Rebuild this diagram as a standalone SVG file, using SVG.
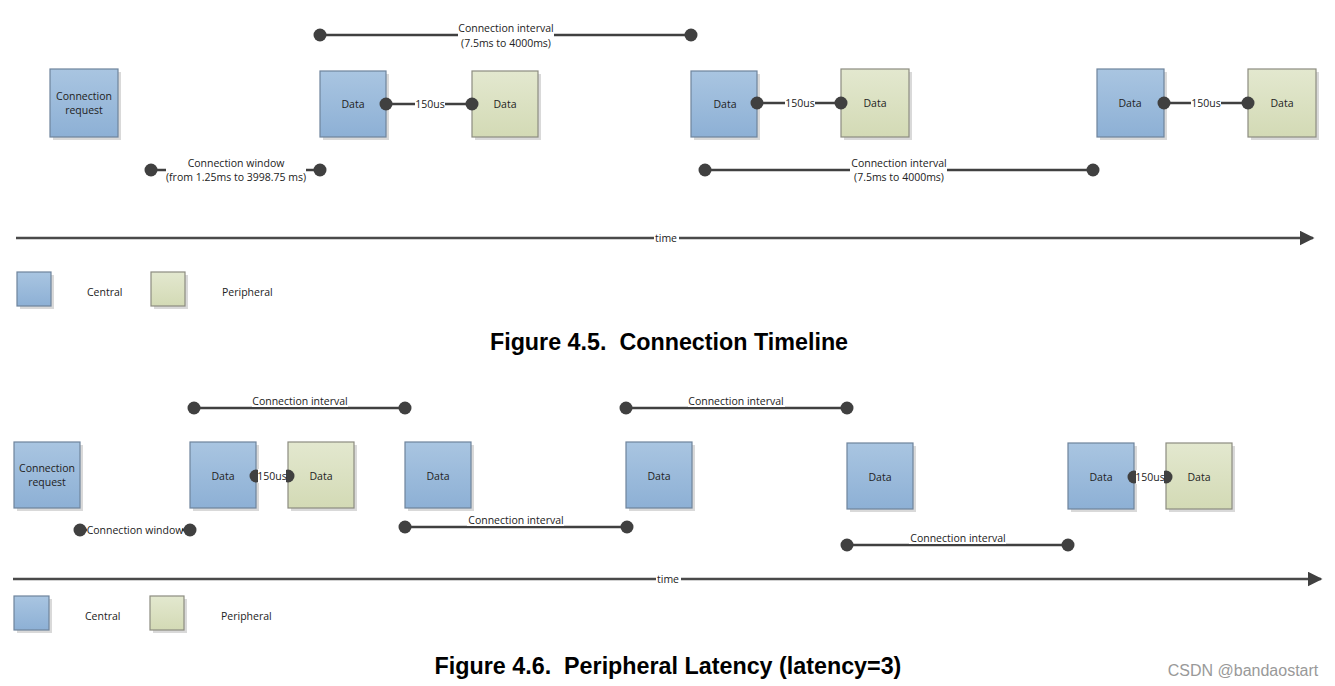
<svg xmlns="http://www.w3.org/2000/svg" width="1335" height="686" viewBox="0 0 1335 686">
<defs>
<linearGradient id="gBlue" x1="0" y1="0" x2="0" y2="1">
<stop offset="0" stop-color="#a9c5e1"/><stop offset="1" stop-color="#8db0d5"/>
</linearGradient>
<linearGradient id="gGreen" x1="0" y1="0" x2="0" y2="1">
<stop offset="0" stop-color="#e3e8cf"/><stop offset="1" stop-color="#d3dab5"/>
</linearGradient>
<marker id="arrow" viewBox="0 0 10 10" refX="9" refY="5" markerWidth="6" markerHeight="6" markerUnits="strokeWidth" orient="auto">
<path d="M0,0 L10,5 L0,10 z" fill="#404040"/>
</marker>
</defs>
<style>
.sh{fill:#d9d9d9}
.blue{fill:url(#gBlue);stroke:#6e849c;stroke-width:1.2}
.green{fill:url(#gGreen);stroke:#8c8c80;stroke-width:1.2}
.t{font-family:"Open Sans","Liberation Sans",sans-serif;font-size:10.5px;fill:#222;text-anchor:middle;dominant-baseline:central}
.tl{font-family:"Open Sans","Liberation Sans",sans-serif;font-size:10.5px;fill:#222;dominant-baseline:central}
.ln{stroke:#404040;stroke-width:2.5;fill:none}
.ax{stroke:#4a4a4a;stroke-width:2.5;fill:none}
.dot{fill:#404040}
.bg{fill:#fff}
.title{font-family:"Liberation Sans",Arial,sans-serif;font-size:23.3px;font-weight:bold;fill:#000;text-anchor:middle;white-space:pre}
.wm{font-family:"Liberation Sans",Arial,sans-serif;font-size:16px;fill:#999;text-anchor:middle}
</style>
<rect width="1335" height="686" fill="#fff"/>

<!-- ===== Figure 4.5 nodes ===== -->
<g id="n45-req"><rect class="sh" x="53" y="72" width="68" height="68"/><rect class="blue" x="50" y="69" width="68" height="68"/><text class="t" x="84" y="96">Connection</text><text class="t" x="84" y="110">request</text></g>
<g id="n45-c1"><rect class="sh" x="323" y="74" width="66" height="66"/><rect class="blue" x="320" y="71" width="66" height="66"/><text class="t" x="353" y="104">Data</text></g>
<g id="n45-p1"><rect class="sh" x="475" y="74" width="66" height="66"/><rect class="green" x="472" y="71" width="66" height="66"/><text class="t" x="505" y="104">Data</text></g>
<g id="n45-c2"><rect class="sh" x="694" y="74" width="66" height="66"/><rect class="blue" x="691" y="71" width="66" height="66"/><text class="t" x="725" y="104">Data</text></g>
<g id="n45-p2"><rect class="sh" x="844" y="72" width="68" height="68"/><rect class="green" x="841" y="69" width="68" height="68"/><text class="t" x="875" y="103">Data</text></g>
<g id="n45-c3"><rect class="sh" x="1100" y="72" width="67" height="68"/><rect class="blue" x="1097" y="69" width="67" height="68"/><text class="t" x="1130" y="103">Data</text></g>
<g id="n45-p3"><rect class="sh" x="1251" y="72" width="68" height="68"/><rect class="green" x="1248" y="69" width="68" height="68"/><text class="t" x="1282" y="103">Data</text></g>

<g id="connectors-45">
<line class="ln" x1="320" y1="35" x2="691" y2="35"/>
<circle class="dot" cx="320" cy="35" r="6.5"/><circle class="dot" cx="691" cy="35" r="6.5"/>
<rect class="bg" x="458" y="20" width="96" height="30"/>
<text class="t" x="506" y="28">Connection interval</text>
<text class="t" x="506" y="43">(7.5ms to 4000ms)</text>

<line class="ln" x1="151" y1="170" x2="320" y2="170"/>
<circle class="dot" cx="151" cy="170" r="6.5"/><circle class="dot" cx="320" cy="170" r="6.5"/>
<rect class="bg" x="166" y="155" width="140" height="30"/>
<text class="t" x="236" y="163">Connection window</text>
<text class="t" x="236" y="177">(from 1.25ms to 3998.75 ms)</text>

<line class="ln" x1="386" y1="104" x2="472" y2="104"/>
<circle class="dot" cx="386" cy="104" r="6.5"/><circle class="dot" cx="472" cy="104" r="6.5"/>
<rect class="bg" x="415" y="97" width="30" height="14"/>
<text class="t" x="430" y="104">150us</text>

<line class="ln" x1="757" y1="103" x2="841" y2="103"/>
<circle class="dot" cx="757" cy="103" r="6.5"/><circle class="dot" cx="841" cy="103" r="6.5"/>
<rect class="bg" x="785" y="96" width="30" height="14"/>
<text class="t" x="800" y="103">150us</text>

<line class="ln" x1="705" y1="170" x2="1093" y2="170"/>
<circle class="dot" cx="705" cy="170" r="6.5"/><circle class="dot" cx="1093" cy="170" r="6.5"/>
<rect class="bg" x="850" y="155" width="97" height="30"/>
<text class="t" x="899" y="163">Connection interval</text>
<text class="t" x="899" y="177">(7.5ms to 4000ms)</text>

<line class="ln" x1="1164" y1="103" x2="1248" y2="103"/>
<circle class="dot" cx="1164" cy="103" r="6.5"/><circle class="dot" cx="1248" cy="103" r="6.5"/>
<rect class="bg" x="1191" y="96" width="30" height="14"/>
<text class="t" x="1206" y="103">150us</text>

<line class="ax" x1="16" y1="238" x2="1313" y2="238" marker-end="url(#arrow)"/>
<rect class="bg" x="654" y="231" width="25" height="14"/>
<text class="t" x="666" y="238">time</text>
</g>

<g id="legend-45">
<rect class="sh" x="20" y="275" width="34" height="34"/><rect class="blue" x="17" y="272" width="34" height="34"/>
<text class="tl" x="87" y="292">Central</text>
<rect class="sh" x="154" y="275" width="34" height="34"/><rect class="green" x="151" y="272" width="34" height="34"/>
<text class="tl" x="222" y="292">Peripheral</text>
</g>
<text class="title" x="669" y="350" xml:space="preserve">Figure 4.5.  Connection Timeline</text>

<!-- ===== Figure 4.6 nodes ===== -->
<g id="n46-req"><rect class="sh" x="17" y="445" width="66" height="66"/><rect class="blue" x="14" y="442" width="66" height="66"/><text class="t" x="47" y="468">Connection</text><text class="t" x="47" y="482">request</text></g>
<g id="n46-c1"><rect class="sh" x="193" y="445" width="66" height="66"/><rect class="blue" x="190" y="442" width="66" height="66"/><text class="t" x="223" y="476">Data</text></g>
<g id="n46-p1"><rect class="sh" x="291" y="445" width="66" height="66"/><rect class="green" x="288" y="442" width="66" height="66"/><text class="t" x="321" y="476">Data</text></g>
<g id="n46-c2"><rect class="sh" x="408" y="445" width="66" height="66"/><rect class="blue" x="405" y="442" width="66" height="66"/><text class="t" x="438" y="476">Data</text></g>
<g id="n46-c3"><rect class="sh" x="629" y="445" width="66" height="66"/><rect class="blue" x="626" y="442" width="66" height="66"/><text class="t" x="659" y="476">Data</text></g>
<g id="n46-c4"><rect class="sh" x="850" y="446" width="66" height="66"/><rect class="blue" x="847" y="443" width="66" height="66"/><text class="t" x="880" y="477">Data</text></g>
<g id="n46-c5"><rect class="sh" x="1071" y="446" width="66" height="66"/><rect class="blue" x="1068" y="443" width="66" height="66"/><text class="t" x="1101" y="477">Data</text></g>
<g id="n46-p2"><rect class="sh" x="1169" y="446" width="66" height="66"/><rect class="green" x="1166" y="443" width="66" height="66"/><text class="t" x="1199" y="477">Data</text></g>

<g id="connectors-46">
<line class="ln" x1="194" y1="408" x2="405" y2="408"/>
<circle class="dot" cx="194" cy="408" r="6.5"/><circle class="dot" cx="405" cy="408" r="6.5"/>
<rect class="bg" x="252" y="393" width="96" height="14"/>
<text class="t" x="300" y="401">Connection interval</text>

<line class="ln" x1="80" y1="530" x2="190" y2="530"/>
<circle class="dot" cx="80" cy="530" r="6.5"/><circle class="dot" cx="190" cy="530" r="6.5"/>
<rect class="bg" x="87" y="523" width="95" height="14"/>
<text class="t" x="135" y="530">Connection window</text>

<circle class="dot" cx="256" cy="476" r="6.5"/><circle class="dot" cx="288" cy="476" r="6.5"/>
<rect class="bg" x="258" y="469" width="28" height="14"/>
<text class="t" x="272" y="476">150us</text>

<line class="ln" x1="405" y1="527" x2="627" y2="527"/>
<circle class="dot" cx="405" cy="527" r="6.5"/><circle class="dot" cx="627" cy="527" r="6.5"/>
<rect class="bg" x="467" y="512" width="97" height="14"/>
<text class="t" x="516" y="520">Connection interval</text>

<line class="ln" x1="626" y1="408" x2="847" y2="408"/>
<circle class="dot" cx="626" cy="408" r="6.5"/><circle class="dot" cx="847" cy="408" r="6.5"/>
<rect class="bg" x="688" y="393" width="97" height="14"/>
<text class="t" x="736" y="401">Connection interval</text>

<line class="ln" x1="847" y1="545" x2="1068" y2="545"/>
<circle class="dot" cx="847" cy="545" r="6.5"/><circle class="dot" cx="1068" cy="545" r="6.5"/>
<rect class="bg" x="909" y="530" width="97" height="14"/>
<text class="t" x="958" y="538">Connection interval</text>

<circle class="dot" cx="1134" cy="477" r="6.5"/><circle class="dot" cx="1166" cy="477" r="6.5"/>
<rect class="bg" x="1136" y="470" width="28" height="14"/>
<text class="t" x="1150" y="477">150us</text>

<line class="ax" x1="13" y1="579" x2="1321" y2="579" marker-end="url(#arrow)"/>
<rect class="bg" x="656" y="572" width="25" height="14"/>
<text class="t" x="668" y="579">time</text>
</g>

<g id="legend-46">
<rect class="sh" x="17" y="599" width="35" height="34"/><rect class="blue" x="14" y="596" width="35" height="34"/>
<text class="tl" x="85" y="616">Central</text>
<rect class="sh" x="153" y="599" width="34" height="34"/><rect class="green" x="150" y="596" width="34" height="34"/>
<text class="tl" x="221" y="616">Peripheral</text>
</g>
<text class="title" x="668" y="674" xml:space="preserve">Figure 4.6.  Peripheral Latency (latency=3)</text>

<text class="wm" x="1243" y="676">CSDN @bandaostart</text>
</svg>
